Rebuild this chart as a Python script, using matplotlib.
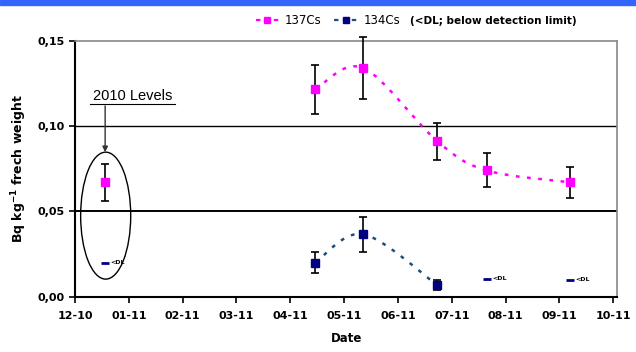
import calendar
import numpy as np
import matplotlib.pyplot as plt
from matplotlib.path import Path
from matplotlib.patches import Ellipse, Rectangle, PathPatch
from matplotlib.lines import Line2D

# data
tick_labels = ['12-10', '01-11', '02-11', '03-11', '04-11', '05-11',
               '06-11', '07-11', '08-11', '09-11', '10-11']

cs137_dates = ['2010-12-18', '2011-04-15', '2011-05-12', '2011-06-23', '2011-07-21', '2011-09-07']
cs137_vals = [0.067, 0.1215, 0.134, 0.091, 0.074, 0.067]
cs137_err = [0.011, 0.0143, 0.018, 0.011, 0.010, 0.009]

cs134_dates = ['2011-04-15', '2011-05-12', '2011-06-23']
cs134_vals = [0.020, 0.0366, 0.0067]
cs134_err = [0.006, 0.0103, 0.003]

dl_dates = ['2010-12-18', '2011-07-21', '2011-09-07']
dl_vals = [0.020, 0.0105, 0.010]


def to_month(s):
    y, m, d = [int(v) for v in s.split('-')]
    return (y - 2010) * 12 + m - 12 + (d - 1) / calendar.monthrange(y, m)[1]


def smooth_path(xs, ys):
    # excel style smoothed line as cubic bezier segments
    p = np.column_stack([xs, ys])
    verts = [p[0]]
    codes = [Path.MOVETO]
    n = len(p)
    for i in range(n - 1):
        prev = p[i - 1] if i > 0 else p[i]
        nxt = p[i + 2] if i + 2 < n else p[i + 1]
        c1 = p[i] + (p[i + 1] - prev) / 6
        c2 = p[i + 1] - (nxt - p[i]) / 6
        verts += [c1, c2, p[i + 1]]
        codes += [Path.CURVE4] * 3
    return Path(verts, codes)


x137 = [to_month(d) for d in cs137_dates]
x134 = [to_month(d) for d in cs134_dates]
xdl = [to_month(d) for d in dl_dates]

pink = '#ff00ff'
navy = '#000080'
navy_line = '#1f4e79'

fig = plt.figure(figsize=(6.36, 3.52), dpi=100)
fig.patches.append(Rectangle((0, 1 - 5 / 352), 1, 5 / 352, transform=fig.transFigure,
                             color='#3366ff', zorder=0))
ax = fig.add_axes([75 / 636, 1 - 296.7 / 352, (617.3 - 75) / 636, (296.7 - 40.7) / 352])

ax.set_xlim(0, 10.074)
ax.set_ylim(0, 0.15)

for yv, lw in [(0.05, 1.4), (0.10, 1.0)]:
    ax.axhline(yv, color='black', lw=lw, zorder=1)

# smoothed dashed lines (2010 point not connected)
for xs, ys, col in [(x137[1:], cs137_vals[1:], pink), (x134, cs134_vals, navy_line)]:
    pp = PathPatch(smooth_path(xs, ys), fill=False, edgecolor=col, lw=1.8,
                   ls=(0, (1.5, 3.0)), capstyle='butt', zorder=2)
    ax.add_patch(pp)

ax.errorbar(x137, cs137_vals, yerr=cs137_err, fmt='none', ecolor='black',
            elinewidth=1.2, capsize=3, capthick=1.2, zorder=3, clip_on=False)
ax.errorbar(x134, cs134_vals, yerr=cs134_err, fmt='none', ecolor='black',
            elinewidth=1.2, capsize=3, capthick=1.2, zorder=3, clip_on=False)
ax.plot(x137, cs137_vals, 's', color=pink, ms=5.5, zorder=4, clip_on=False)
ax.plot(x134, cs134_vals, 's', color=navy, ms=5.5, zorder=4)

ax.plot(xdl, dl_vals, '_', color=navy, ms=6, mew=2, zorder=4)
for xv, yv in zip(xdl, dl_vals):
    ax.annotate('<DL', (xv, yv), xytext=(4, 0), textcoords='offset points',
                fontsize=4.5, fontweight='bold', va='center', ha='left')

# 2010 levels annotation
ax.add_patch(Ellipse((0.57, 0.0475), 0.93, 0.0744, fill=False, edgecolor='black',
                     lw=1.0, zorder=3))
ax.annotate('', xy=(0.56, 0.0847), xytext=(0.56, 0.1118),
            arrowprops=dict(arrowstyle='-|>', color='#333333', lw=1.0,
                            mutation_scale=8, shrinkA=0, shrinkB=0))
ax.text(1.07, 0.1175, '2010 Levels', fontsize=10.5, family='Liberation Sans',
        ha='center', va='center')
ax.plot([0.28, 1.86], [0.1127, 0.1127], color='black', lw=0.8)

ax.set_xticks(range(len(tick_labels)))
ax.set_xticklabels(tick_labels)
ax.set_yticks([0, 0.05, 0.10, 0.15])
ax.set_yticklabels(['0,00', '0,05', '0,10', '0,15'])
ax.tick_params(direction='out', length=4, width=1.2, labelsize=8)
for lab in ax.get_xticklabels() + ax.get_yticklabels():
    lab.set_fontweight('bold')
ax.tick_params(axis='x', pad=6)

for side in ['left', 'bottom']:
    ax.spines[side].set_linewidth(1.5)
for side in ['top', 'right']:
    ax.spines[side].set_color('#888888')
    ax.spines[side].set_linewidth(1.2)

ax.set_xlabel('Date', fontsize=8.5, fontweight='bold', labelpad=8)
ax.set_ylabel('Bq kg$^{\\mathbf{-1}}$ frech weight', fontsize=9, fontweight='bold', labelpad=6)

handles = [Line2D([], [], color=pink, ls=(0, (2, 2)), lw=1.6, marker='s', ms=5),
           Line2D([], [], color=navy_line, ls=(0, (2, 2)), lw=1.6, marker='s', ms=5,
                  mfc=navy, mec=navy)]
fig.legend(handles, ['137Cs', '134Cs'], loc='center left', ncol=2, frameon=False,
           bbox_to_anchor=(245 / 636, 1 - 21 / 352), fontsize=8.5, handlelength=2.0,
           handletextpad=0.5, columnspacing=1.0)
fig.text(410 / 636, 1 - 21 / 352, '(<DL; below detection limit)', fontsize=7.5,
         fontweight='bold', va='center', ha='left')

fig.savefig('out.png', dpi=100)
